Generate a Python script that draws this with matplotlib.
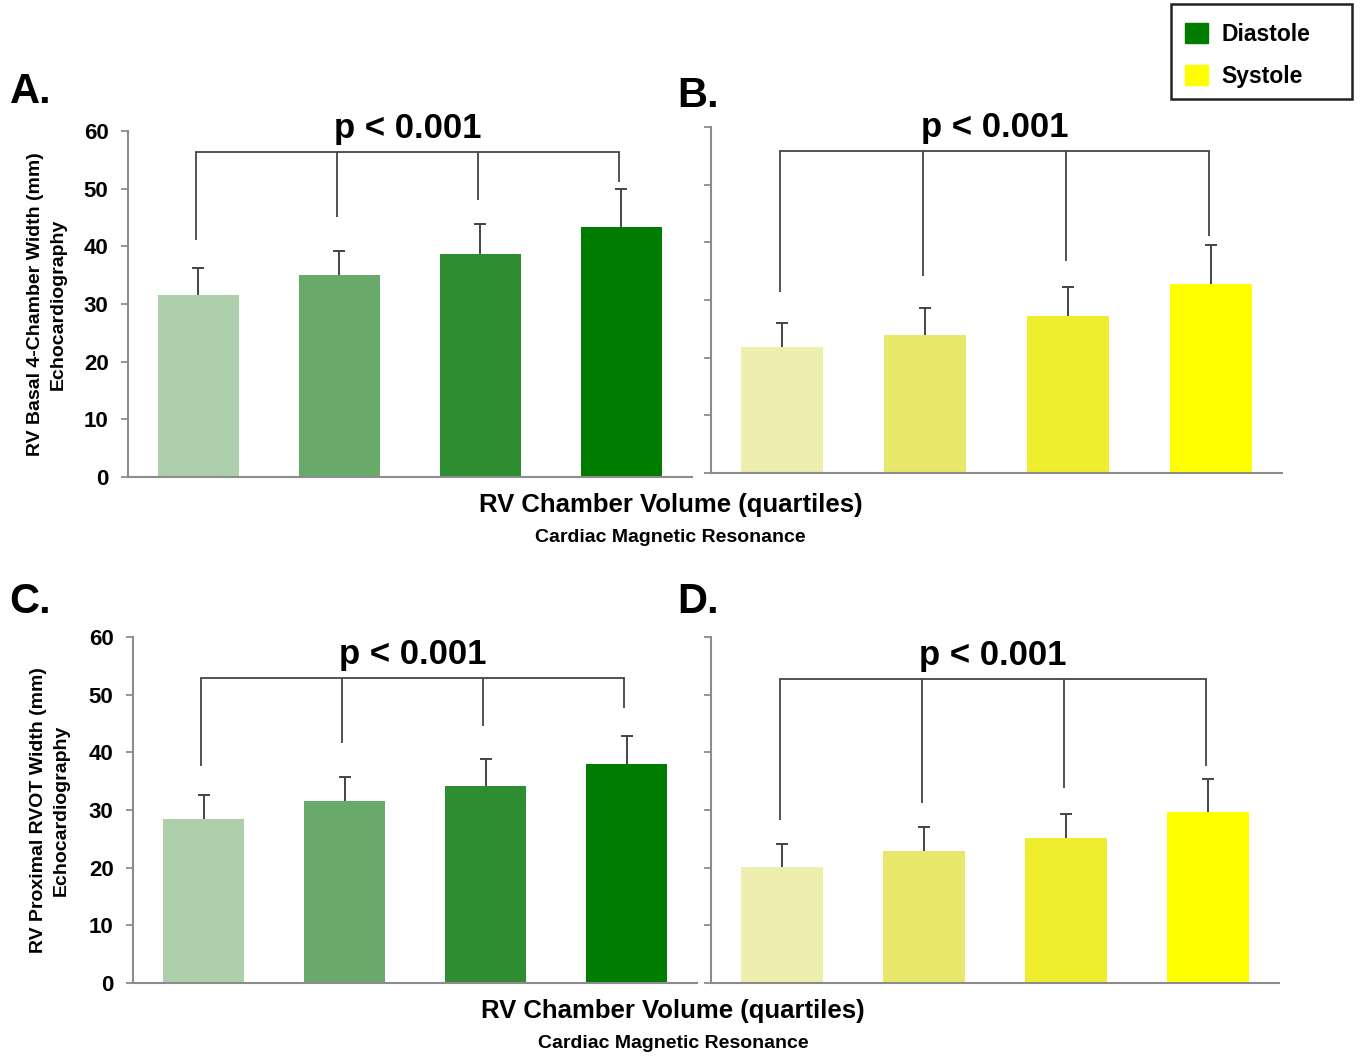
import matplotlib
matplotlib.use("Agg")
import matplotlib.pyplot as plt
from matplotlib.patches import Patch, Rectangle
import numpy as np

plt.rcParams['font.family'] = ['Liberation Sans', 'DejaVu Sans']
plt.rcParams['font.weight'] = 'bold'

quartiles = [0, 1, 2, 3]
greens = ['#aecfab', '#69a96a', '#2e8d31', '#007c00']
yellows = ['#eeeeae', '#e8e86a', '#eeee2e', '#ffff00']

# panel A: basal width, diastole
a_mean = [31.5, 35.0, 38.7, 43.3]
a_sd = [4.7, 4.2, 5.2, 6.6]
a_top = 56.3
a_drop = [41.1, 45.1, 48.0, 51.1]

# panel B: basal width, systole
b_mean = [21.8, 23.9, 27.2, 32.8]
b_sd = [4.2, 4.7, 5.0, 6.7]
b_top = 55.8
b_drop = [31.4, 34.1, 36.7, 41.1]

# panel C: RVOT width, diastole
c_mean = [28.4, 31.5, 34.1, 38.0]
c_sd = [4.2, 4.2, 4.7, 4.8]
c_top = 52.9
c_drop = [37.6, 41.6, 44.5, 47.7]

# panel D: RVOT width, systole
d_mean = [20.1, 22.9, 25.1, 29.6]
d_sd = [4.0, 4.1, 4.2, 5.8]
d_top = 52.7
d_drop = [28.2, 31.2, 33.8, 37.6]

yticks = [0, 10, 20, 30, 40, 50, 60]

fig = plt.figure(figsize=(13.6, 10.59), dpi=100)

rects = {
    'A': [0.0941, 0.5496, 0.4147, 0.3267],
    'B': [0.5228, 0.5534, 0.4199, 0.3267],
    'C': [0.0978, 0.0718, 0.4147, 0.3267],
    'D': [0.5228, 0.0718, 0.4176, 0.3267],
}
panels = {
    'A': (a_mean, a_sd, a_top, a_drop, greens, True),
    'B': (b_mean, b_sd, b_top, b_drop, yellows, False),
    'C': (c_mean, c_sd, c_top, c_drop, greens, True),
    'D': (d_mean, d_sd, d_top, d_drop, yellows, False),
}

spine_col = '#8c8c8c'
line_col = '#444444'

for key, (mean, sd, top, drop, cols, labels) in panels.items():
    ax = fig.add_axes(rects[key])
    x = np.array(quartiles)
    ax.bar(x, mean, width=0.575, color=cols, zorder=2)
    tops = np.array(mean) + np.array(sd)
    ax.vlines(x, mean, tops, color=line_col, lw=1.4, zorder=1)
    ax.plot(x, tops, ls='none', marker='_', ms=9, mew=1.4, color=line_col, zorder=1)
    # significance bracket
    bx = x - 0.015
    ax.plot([bx[0], bx[-1]], [top, top], color=line_col, lw=1.3, clip_on=False)
    ax.vlines(bx, drop, top, color=line_col, lw=1.3, clip_on=False)
    ax.text((bx[0] + bx[-1]) / 2, top + 1.2, 'p < 0.001', ha='center', va='bottom',
            fontsize=25, fontweight='bold', clip_on=False)

    ax.set_xlim(-0.5, 3.5)
    ax.set_ylim(0, 60)
    ax.set_xticks([])
    ax.set_yticks(yticks)
    ax.tick_params(axis='y', direction='out', length=5, width=1.3, color=spine_col,
                   labelsize=16, pad=9)
    if not labels:
        ax.set_yticklabels([])
    for s in ['top', 'right']:
        ax.spines[s].set_visible(False)
    for s in ['left', 'bottom']:
        ax.spines[s].set_color(spine_col)
        ax.spines[s].set_linewidth(1.5)

    if key == 'A':
        ax.set_ylabel('RV Basal 4-Chamber Width (mm)\nEchocardiography', fontsize=14,
                      fontweight='bold', linespacing=1.45, labelpad=12)
    if key == 'C':
        ax.set_ylabel('RV Proximal RVOT Width (mm)\nEchocardiography', fontsize=14,
                      fontweight='bold', linespacing=1.45, labelpad=14)

# panel letters
fig.text(0.007, 0.903, 'A.', fontsize=30, fontweight='bold')
fig.text(0.498, 0.899, 'B.', fontsize=30, fontweight='bold')
fig.text(0.007, 0.421, 'C.', fontsize=30, fontweight='bold')
fig.text(0.498, 0.421, 'D.', fontsize=30, fontweight='bold')

# shared x labels
fig.text(0.493, 0.523, 'RV Chamber Volume (quartiles)', ha='center', va='center', fontsize=18.5)
fig.text(0.493, 0.492, 'Cardiac Magnetic Resonance', ha='center', va='center', fontsize=14)
fig.text(0.495, 0.045, 'RV Chamber Volume (quartiles)', ha='center', va='center', fontsize=18.5)
fig.text(0.495, 0.015, 'Cardiac Magnetic Resonance', ha='center', va='center', fontsize=14)

# legend with a separately drawn frame (wider right margin as in the original)
handles = [Patch(color=greens[-1], label='Diastole'), Patch(color=yellows[-1], label='Systole')]
fig.legend(handles=handles, loc='upper left', bbox_to_anchor=(0.8713, 0.9787),
           borderaxespad=0, borderpad=0, fontsize=16.5, frameon=False,
           handlelength=1.0, handleheight=1.0, handletextpad=0.6, labelspacing=0.83)
fig.add_artist(Rectangle((0.8610, 0.9065), 0.1331, 0.0897, transform=fig.transFigure,
                         fill=False, edgecolor='#222222', lw=1.8))

fig.savefig('out.png', dpi=100)
